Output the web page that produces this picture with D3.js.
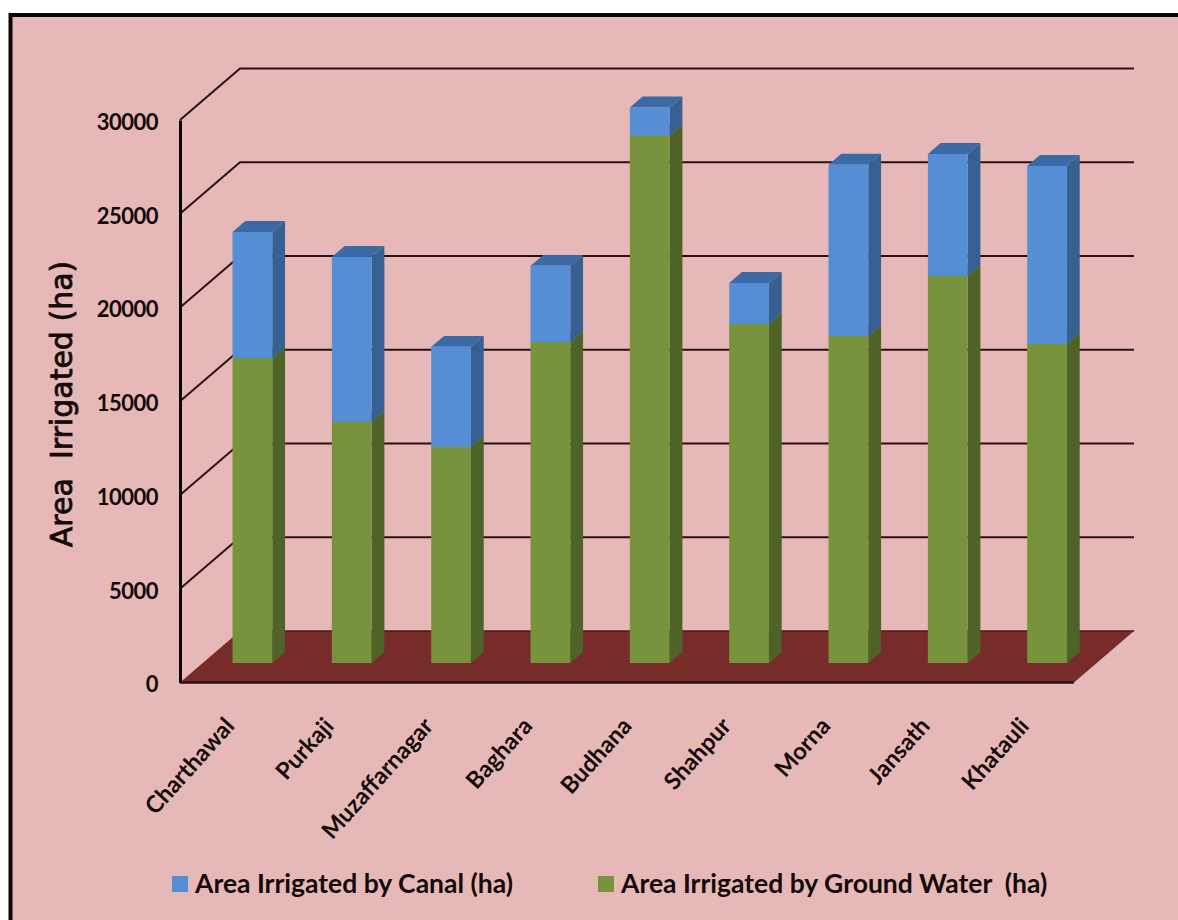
<!DOCTYPE html>
<html>
<head>
<meta charset="utf-8">
<script src="https://cdn.jsdelivr.net/npm/d3@7"></script>
<style>
  html, body { margin: 0; padding: 0; background: #fff; }
  svg { display: block; }
  text { fill: #140a0a; }
</style>
</head>
<body>
<script>
// Irrigated area per block, split by water source (hectares)
const blocks = ["Charthawal", "Purkaji", "Muzaffarnagar", "Baghara", "Budhana", "Shahpur", "Morna", "Jansath", "Khatauli"];
const groundWater = [16260, 12860, 11520, 17120, 28130, 18080, 17440, 20640, 17010];
const canal = [6730, 8800, 5340, 4060, 1500, 2190, 9130, 6510, 9500];
const yTicks = [0, 5000, 10000, 15000, 20000, 25000, 30000];
const legendLabels = ["Area Irrigated by Canal (ha)", "Area Irrigated by Ground Water  (ha)"];
const axisTitle = "Area  Irrigated (ha)";

const width = 1178, height = 920;
const colors = {
  canal: { front: "#558ed5", side: "#376092", top: "#3b6aa6" },
  ground: { front: "#77933c", side: "#4f6228", top: "#5f7a2e" },
  floor: "#772c2a", line: "#2a1212", page: "#e6b8b7"
};

const svg = d3.select("body").append("svg").attr("width", width).attr("height", height);
svg.append("rect").attr("x", 10.5).attr("y", 15).attr("width", width + 20).attr("height", height + 20)
  .attr("fill", colors.page).attr("stroke", "#0c0505").attr("stroke-width", 4);

// Oblique projection: a value and a depth (0 = front plane, 1 = back wall) map to the page
const y = d3.scaleLinear().domain([0, 30000]).range([682.5, 120]);
const x = d3.scaleBand().domain(blocks).range([180, 1074]).paddingInner(0.6).paddingOuter(0.3);
const depthX = d3.scaleLinear().domain([0, 1]).range([0, 60]);
const depthY = d3.scaleLinear().domain([0, 1]).range([0, -51.5]);
const project = (px, value, depth) => [px + depthX(depth), y(value) + depthY(depth)];
const poly = pts => "M" + pts.map(p => p.join(",")).join("L") + "Z";

// Gridlines run across the left wall and along the back wall
const grid = svg.append("g");
yTicks.filter(t => t > 0).forEach(t => {
  grid.append("path")
    .attr("d", d3.line()([project(180, t, 0), project(180, t, 1), project(1074, t, 1)]))
    .attr("fill", "none").attr("stroke", colors.line).attr("stroke-width", 2);
});

// Floor
svg.append("path")
  .attr("d", poly([project(180, 0, 0), project(1074, 0, 0), project(1074, 0, 1), project(180, 0, 1)]))
  .attr("fill", colors.floor);
svg.append("path")
  .attr("d", d3.line()([project(180, 0, 1), project(1074, 0, 1)]))
  .attr("stroke", "#4a1a18").attr("stroke-width", 1.5);
svg.append("path")
  .attr("d", d3.line()([project(180, 0, 0), project(1074, 0, 0)]))
  .attr("stroke", "#2a0f0f").attr("stroke-width", 2.5);

// Value axis on the front plane
const axis = svg.append("g").attr("transform", "translate(180,0)")
  .call(d3.axisLeft(y).tickValues(yTicks).tickFormat(d3.format("d")).tickSize(0).tickPadding(22));
axis.select(".domain").attr("stroke", "#0c0505").attr("stroke-width", 3);
axis.selectAll("text")
  .attr("font-family", "Lato, sans-serif").attr("font-weight", 700).attr("font-size", 22)
  .attr("letter-spacing", -0.5)
  .attr("dy", "0.42em")
  .attr("fill", "#140a0a");

// Stacked 3-D columns
const frontDepth = 0.379, backDepth = 0.592;
const drawSegment = (name, v0, v1, c) => {
  const left = x(name), right = left + x.bandwidth();
  const g = svg.append("g");
  g.append("path").attr("fill", c.side).attr("d", poly([
    project(right, v0, frontDepth), project(right, v0, backDepth),
    project(right, v1, backDepth), project(right, v1, frontDepth)]));
  g.append("path").attr("fill", c.top).attr("d", poly([
    project(left, v1, frontDepth), project(right, v1, frontDepth),
    project(right, v1, backDepth), project(left, v1, backDepth)]));
  g.append("path").attr("fill", c.front).attr("d", poly([
    project(left, v0, frontDepth), project(right, v0, frontDepth),
    project(right, v1, frontDepth), project(left, v1, frontDepth)]));
};
blocks.forEach((name, i) => {
  drawSegment(name, 0, groundWater[i], colors.ground);
  drawSegment(name, groundWater[i], groundWater[i] + canal[i], colors.canal);
});

// Slanted category labels
svg.append("g").selectAll("text").data(blocks).join("text")
  .attr("transform", d => `translate(${x(d) + x.bandwidth() / 2 + 6},727) rotate(-48)`)
  .attr("text-anchor", "end")
  .attr("font-family", "Lato, sans-serif").attr("font-weight", 700).attr("font-size", 23.5)
  .text(d => d);

// Axis title
svg.append("text")
  .attr("transform", "translate(72,404) rotate(-90)")
  .attr("text-anchor", "middle")
  .attr("font-family", "'DejaVu Sans', sans-serif").attr("font-size", 30)
  .attr("stroke", "#140a0a").attr("stroke-width", 0.8)
  .style("white-space", "pre")
  .text(axisTitle);

// Legend
const legendItems = [
  { label: legendLabels[0], color: colors.canal.front, x: 172 },
  { label: legendLabels[1], color: colors.ground.front, x: 598 }
];
const legend = svg.append("g").selectAll("g").data(legendItems).join("g")
  .attr("transform", d => `translate(${d.x},876)`);
legend.append("rect").attr("width", 16).attr("height", 16).attr("fill", d => d.color);
legend.append("text").attr("x", 23).attr("y", 17)
  .attr("font-family", "Lato, sans-serif").attr("font-weight", 700).attr("font-size", 26.5)
  .style("white-space", "pre")
  .text(d => d.label);
</script>
</body>
</html>
